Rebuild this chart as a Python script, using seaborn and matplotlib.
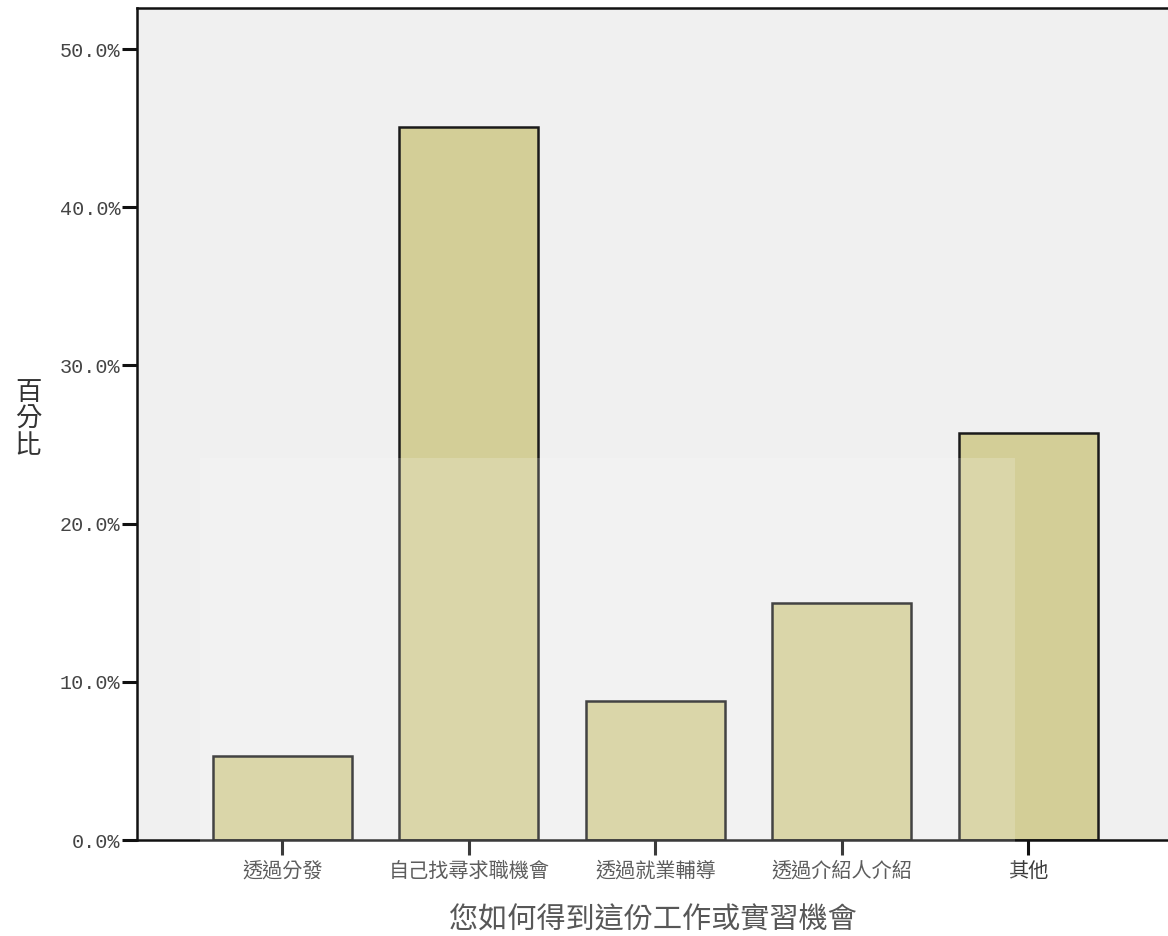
import matplotlib
matplotlib.use("Agg")
import matplotlib.pyplot as plt
import matplotlib.patches as mpatches
import seaborn as sns
import pandas as pd

categories = ["透過分發", "自己找尋求職機會", "透過就業輔導", "透過介紹人介紹", "其他"]
percent = [5.3, 45.1, 8.8, 15.0, 25.7]
y_ticks = [0, 10, 20, 30, 40, 50]
y_tick_labels = ["0.0%", "10.0%", "20.0%", "30.0%", "40.0%", "50.0%"]

df = pd.DataFrame({"category": categories, "percent": percent})

sns.set_theme(style="white")
plt.rcParams["font.family"] = ["Noto Sans CJK TC", "DejaVu Sans"]

fig = plt.figure(figsize=(11.68, 9.36), dpi=100)
ax = fig.add_axes([137 / 1168, 96 / 936, 1 - 137 / 1168, 832 / 936])
ax.set_facecolor("#f0f0f0")

sns.barplot(
    data=df, x="category", y="percent", order=categories,
    color="#d3ce97", saturation=1, width=0.745,
    edgecolor="#1a1a1a", linewidth=1.8, ax=ax,
)

ax.set_xlim(-0.78, 4.75)
ax.set_ylim(0, 52.6)
ax.set_yticks(y_ticks)
ax.set_yticklabels(y_tick_labels, family=["Liberation Mono", "DejaVu Sans"],
                   fontsize=14.5, color="#444444")
ax.tick_params(axis="x", labelsize=14.5, colors="#3a3a3a", pad=4)
ax.tick_params(axis="y", pad=1)
ax.tick_params(axis="both", direction="out", length=11, width=2.2,
               color="#111111", left=True, bottom=True)

for side in ["top", "left", "bottom"]:
    ax.spines[side].set_visible(True)
    ax.spines[side].set_color("#111111")
    ax.spines[side].set_linewidth(1.8)
ax.spines["right"].set_visible(False)

ax.set_xlabel("您如何得到這份工作或實習機會", fontsize=21, color="#333333", labelpad=17)
ax.set_ylabel("")
fig.text(28 / 1168, 1 - 419 / 936, "百\n分\n比", fontsize=19, color="#333333",
         ha="center", va="center", linespacing=1.0)

# faint watermark panel seen in the source image
fig.patches.append(mpatches.Rectangle((200 / 1168, 0), 815 / 1168, 1 - 458 / 936,
                                      transform=fig.transFigure, facecolor="white",
                                      alpha=0.18, edgecolor="none", zorder=5))

fig.savefig("out.png", dpi=100, facecolor="white")
